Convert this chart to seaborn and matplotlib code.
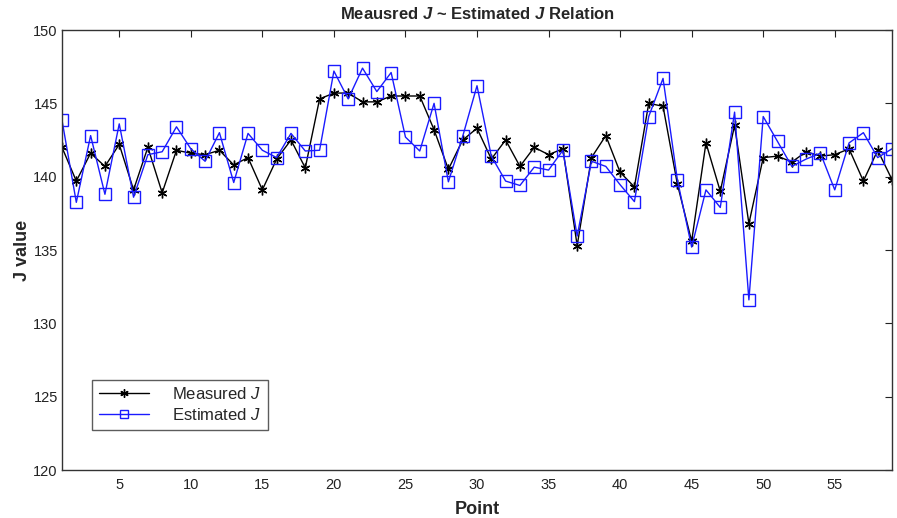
import numpy as np
import pandas as pd
import matplotlib
matplotlib.use("Agg")
import matplotlib.pyplot as plt
import seaborn as sns

points = list(range(1, 60))
measured = [142.0, 139.7, 141.6, 140.7, 142.2, 139.1, 142.0, 138.9, 141.8, 141.6,
            141.5, 141.8, 140.8, 141.3, 139.1, 141.2, 142.5, 140.6, 145.3, 145.7,
            145.7, 145.1, 145.1, 145.5, 145.5, 145.5, 143.2, 140.5, 142.5, 143.3,
            141.2, 142.5, 140.7, 142.0, 141.5, 141.9, 135.3, 141.3, 142.8, 140.3,
            139.3, 145.0, 144.8, 139.5, 135.6, 142.3, 139.0, 143.5, 136.8, 141.3,
            141.4, 141.0, 141.7, 141.4, 141.5, 141.9, 139.7, 141.8, 139.8]
estimated = [143.85, 138.25, 142.8, 138.8, 143.6, 138.6, 141.5, 141.7, 143.4, 141.9,
             141.05, 143.0, 139.6, 142.95, 141.8, 141.3, 142.95, 141.75, 141.8, 147.2,
             145.3, 147.4, 145.8, 147.1, 142.7, 141.75, 145.0, 139.65, 142.75, 146.2,
             141.4, 139.7, 139.4, 140.65, 140.45, 141.8, 135.95, 141.05, 140.7, 139.45,
             138.3, 144.1, 146.7, 139.8, 135.2, 139.1, 137.9, 144.4, 131.6, 144.1,
             142.4, 140.7, 141.2, 141.6, 139.1, 142.3, 143.0, 141.3, 141.9]
series_names = ["Measured $J$", "Estimated $J$"]
x_ticks = [5, 10, 15, 20, 25, 30, 35, 40, 45, 50, 55]
y_ticks = [120, 125, 130, 135, 140, 145, 150]

sns.set_theme(style="white")
plt.rcParams['font.family'] = ['Liberation Sans', 'DejaVu Sans']
plt.rcParams['mathtext.fontset'] = 'custom'
plt.rcParams['mathtext.it'] = 'Liberation Sans:italic'
plt.rcParams['mathtext.bf'] = 'Liberation Sans:bold:italic'

fig = plt.figure(figsize=(8.97, 5.18), dpi=100)
ax = fig.add_axes([62/897, 48/518, 830/897, 440/518])

df_m = pd.DataFrame({"Point": points, "J": measured})
df_e = pd.DataFrame({"Point": points, "J": estimated})

sns.lineplot(data=df_m, x="Point", y="J", ax=ax, color="black", lw=1.0,
             marker=(6, 2, 0), markersize=7, markeredgewidth=1.0,
             markeredgecolor="black", label=series_names[0])
sns.lineplot(data=df_e, x="Point", y="J", ax=ax, color="#1a1aff", lw=1.0,
             marker="s", markersize=8, markerfacecolor="none",
             markeredgecolor="#1a1aff", markeredgewidth=1.0, label=series_names[1])

ax.set_xlim(1, 59)
ax.set_ylim(120, 150)
ax.set_xticks(x_ticks)
ax.set_yticks(y_ticks)
ax.tick_params(direction="in", length=5, width=0.8, top=True, right=True,
               labelsize=10.5, pad=6, colors="#222222")
ax.tick_params(axis="y", pad=3)
for s in ax.spines.values():
    s.set_visible(True)
    s.set_color("#333333")
    s.set_linewidth(1.0)

ax.set_xlabel("Point", fontsize=13, fontweight="bold", labelpad=6)
ax.set_ylabel("J value", fontsize=13, fontweight="bold", labelpad=2)
ax.set_title(r"Meausred $\mathbf{J}$ ~ Estimated $\mathbf{J}$ Relation", fontsize=12,
             fontweight="bold", pad=8)

leg = ax.legend(loc="lower left", bbox_to_anchor=(0.036, 0.091), borderaxespad=0,
                frameon=True, fancybox=False, edgecolor="#333333", handlelength=3.0,
                borderpad=0.4, labelspacing=0.3, handletextpad=1.4,
                prop={'size': 12})
leg.get_frame().set_linewidth(1.0)
for h in leg.legend_handles:
    h.set_markersize(6)

fig.savefig("out.png", dpi=100)
